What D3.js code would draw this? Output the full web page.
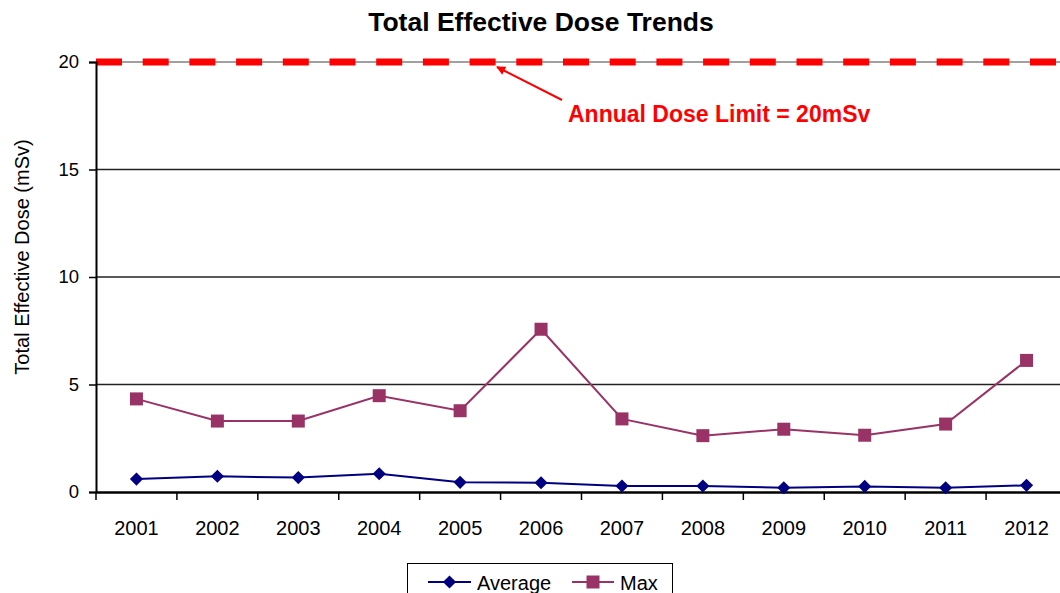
<!DOCTYPE html>
<html>
<head>
<meta charset="utf-8">
<script src="https://cdn.jsdelivr.net/npm/d3@7"></script>
<style>
  body { margin: 0; background: #fff; }
  svg { display: block; font-family: "Liberation Sans", Arial, sans-serif; }
</style>
</head>
<body>
<svg id="chart" width="1060" height="593"></svg>
<script>
// data
var years = ["2001","2002","2003","2004","2005","2006","2007","2008","2009","2010","2011","2012"];
var average = [0.6, 0.73, 0.67, 0.85, 0.45, 0.43, 0.28, 0.28, 0.2, 0.26, 0.2, 0.31];
var maxDose = [4.33, 3.3, 3.3, 4.48, 3.78, 7.57, 3.4, 2.62, 2.92, 2.64, 3.16, 6.12];
var yTicks = [0, 5, 10, 15, 20];
var doseLimit = 20;

var svg = d3.select('#chart');
var plotLeft = 96, plotRight = 1067, plotTop = 62, plotBottom = 492;
var font = '"Liberation Sans", Arial, sans-serif';

var x = d3.scaleBand().domain(years).range([plotLeft, plotRight]);
var y = d3.scaleLinear().domain([0, 20]).range([plotBottom, plotTop]);

// gridlines
svg.append('g')
  .selectAll('line')
  .data(yTicks.filter(function(d) { return d > 0; }))
  .enter().append('line')
  .attr('x1', plotLeft).attr('x2', plotRight)
  .attr('y1', function(d) { return y(d); })
  .attr('y2', function(d) { return y(d); })
  .style('stroke', function(d) { return d == doseLimit ? '#808080' : '#222'; })
  .style('stroke-width', 1.5);

// dose limit dashed line
svg.append('line')
  .attr('x1', plotLeft).attr('x2', plotRight)
  .attr('y1', y(doseLimit)).attr('y2', y(doseLimit))
  .style('stroke', '#ff0000')
  .style('stroke-width', 7)
  .style('stroke-dasharray', '26,20.7');

// y axis
var yAxis = svg.append('g')
  .attr('transform', 'translate(' + plotLeft + ',0)')
  .call(d3.axisLeft(y).tickValues(yTicks).tickSize(7).tickPadding(10));
yAxis.select('.domain').style('stroke', '#000').style('stroke-width', 2);
yAxis.selectAll('.tick line').style('stroke', '#000').style('stroke-width', 1.5);
yAxis.selectAll('text').style('font-size', '18.5px').style('fill', '#000')
  .style('font-family', font);

// x axis
var xAxis = svg.append('g')
  .attr('transform', 'translate(0,' + plotBottom + ')')
  .call(d3.axisBottom(x).tickSize(0).tickPadding(29));
xAxis.select('.domain').style('stroke', '#000').style('stroke-width', 2.5);
xAxis.selectAll('text').style('font-size', '20px').style('fill', '#000')
  .style('font-family', font);
// category boundary ticks
svg.append('g')
  .selectAll('line')
  .data(years)
  .enter().append('line')
  .attr('x1', function(d) { return x(d); })
  .attr('x2', function(d) { return x(d); })
  .attr('y1', plotBottom).attr('y2', plotBottom + 8)
  .style('stroke', '#000').style('stroke-width', 1.5);

function cx(d, i) { return x(years[i]) + x.bandwidth() / 2; }

var line = d3.line().x(cx).y(function(d) { return y(d); });

// Max series
svg.append('path').datum(maxDose)
  .attr('d', line)
  .style('fill', 'none').style('stroke', '#993366').style('stroke-width', 2);
svg.append('g').selectAll('rect')
  .data(maxDose).enter().append('rect')
  .attr('x', function(d, i) { return cx(d, i) - 6.5; })
  .attr('y', function(d) { return y(d) - 6.5; })
  .attr('width', 13).attr('height', 13)
  .style('fill', '#993366');

// Average series
svg.append('path').datum(average)
  .attr('d', line)
  .style('fill', 'none').style('stroke', '#000080').style('stroke-width', 2);
var diamond = d3.symbol().type(d3.symbolDiamond2).size(110);
svg.append('g').selectAll('path')
  .data(average).enter().append('path')
  .attr('d', diamond)
  .attr('transform', function(d, i) { return 'translate(' + cx(d, i) + ',' + y(d) + ')'; })
  .style('fill', '#000080');

// title
svg.append('text')
  .attr('x', 541).attr('y', 31)
  .attr('text-anchor', 'middle')
  .style('font-size', '26.5px').style('font-weight', 'bold')
  .text('Total Effective Dose Trends');

// y label
svg.append('text')
  .attr('transform', 'translate(29,' + 257 + ') rotate(-90)')
  .attr('text-anchor', 'middle')
  .style('font-size', '20px')
  .text('Total Effective Dose (mSv)');

// annotation
svg.append('defs').append('marker')
  .attr('id', 'arrow')
  .attr('viewBox', '0 0 10 10').attr('refX', 9).attr('refY', 5)
  .attr('markerWidth', 11).attr('markerHeight', 9)
  .attr('markerUnits', 'userSpaceOnUse')
  .attr('orient', 'auto')
  .append('path').attr('d', 'M0,0 L10,5 L0,10 z').style('fill', '#ff0000');
svg.append('line')
  .attr('x1', 562).attr('y1', 100)
  .attr('x2', 497).attr('y2', 67)
  .style('stroke', '#ff0000').style('stroke-width', 2)
  .attr('marker-end', 'url(#arrow)');
svg.append('text')
  .attr('x', 568).attr('y', 122)
  .style('font-size', '23px').style('font-weight', 'bold').style('fill', '#ff0000')
  .text('Annual Dose Limit = 20mSv');

// legend
var legend = svg.append('g');
legend.append('rect')
  .attr('x', 407.5).attr('y', 563.5).attr('width', 265).attr('height', 40)
  .style('fill', '#fff').style('stroke', '#000').style('stroke-width', 1);
var ly = 582;
legend.append('line').attr('x1', 428).attr('x2', 471).attr('y1', ly).attr('y2', ly)
  .style('stroke', '#000080').style('stroke-width', 2);
legend.append('path').attr('d', diamond)
  .attr('transform', 'translate(449.5,' + ly + ')').style('fill', '#000080');
legend.append('text').attr('x', 477).attr('y', ly + 8)
  .style('font-size', '20px').text('Average');
legend.append('line').attr('x1', 572).attr('x2', 614).attr('y1', ly).attr('y2', ly)
  .style('stroke', '#993366').style('stroke-width', 2);
legend.append('rect').attr('x', 586.5).attr('y', ly - 6.5).attr('width', 13).attr('height', 13)
  .style('fill', '#993366');
legend.append('text').attr('x', 620).attr('y', ly + 8)
  .style('font-size', '20px').text('Max');
</script>
</body>
</html>
